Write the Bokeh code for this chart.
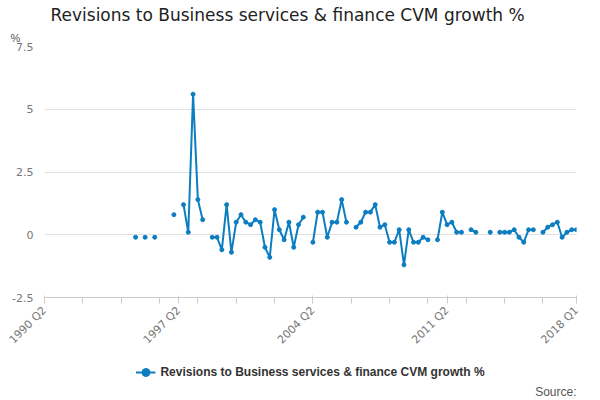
from bokeh.plotting import figure
from bokeh.layouts import column
from bokeh.models import Range1d, FixedTicker, Legend, LegendItem, Title, ColumnDataSource
from bokeh.embed import file_html
from bokeh.resources import INLINE
import numpy as np

# Quarter labels 1990 Q2 .. 2018 Q1 (112 quarters)
quarters = []
for yr in range(1990, 2019):
    for q in range(1, 5):
        quarters.append(f'{yr} Q{q}')
quarters = quarters[1:quarters.index('2018 Q1') + 1]

# Revisions, indexed by quarter position (missing = no data)
revisions = {
    19: -0.1, 21: -0.1, 23: -0.1, 27: 0.8,
    29: 1.2, 30: 0.1, 31: 5.6, 32: 1.4, 33: 0.6,
    35: -0.1, 36: -0.1, 37: -0.6, 38: 1.2, 39: -0.7, 40: 0.5, 41: 0.8, 42: 0.5,
    43: 0.4, 44: 0.6, 45: 0.5, 46: -0.5, 47: -0.9, 48: 1.0, 49: 0.2, 50: -0.2,
    51: 0.5, 52: -0.5, 53: 0.4, 54: 0.7,
    56: -0.3, 57: 0.9, 58: 0.9, 59: -0.1, 60: 0.5, 61: 0.5, 62: 1.4, 63: 0.5,
    65: 0.3, 66: 0.5, 67: 0.9, 68: 0.9, 69: 1.2, 70: 0.3, 71: 0.4, 72: -0.3,
    73: -0.3, 74: 0.2, 75: -1.2, 76: 0.2, 77: -0.3, 78: -0.3, 79: -0.1, 80: -0.2,
    82: -0.2, 83: 0.9, 84: 0.4, 85: 0.5, 86: 0.1, 87: 0.1,
    89: 0.2, 90: 0.1, 93: 0.1,
    95: 0.1, 96: 0.1, 97: 0.1, 98: 0.2, 99: -0.1, 100: -0.3, 101: 0.2, 102: 0.2,
    104: 0.1, 105: 0.3, 106: 0.4, 107: 0.5, 108: -0.1, 109: 0.1, 110: 0.2, 111: 0.2,
}
SERIES_NAME = 'Revisions to Business services & finance CVM growth %'

xs = list(range(len(quarters)))
ys = [revisions.get(i, np.nan) for i in xs]
COLOR = '#0b7dc1'

p = figure(frame_width=532, frame_height=251, title=None,
           output_backend="svg", toolbar_location=None,
           x_range=Range1d(0, 111), y_range=Range1d(-2.5, 7.5),
           min_border_left=44, min_border_right=8, min_border_top=0, min_border_bottom=0)

src = ColumnDataSource(dict(x=xs, y=ys))
p.line('x', 'y', source=src, line_color=COLOR, line_width=2)
p.scatter('x', 'y', source=src, size=4, color=COLOR)

p.outline_line_color = None
p.xgrid.grid_line_color = None
p.ygrid.grid_line_color = '#e0e0e0'
p.yaxis.ticker = FixedTicker(ticks=[-2.5, 0, 2.5, 5, 7.5])
p.yaxis.major_label_overrides = {-2.5: '-2.5', 0: '0', 2.5: '2.5', 5: '5', 7.5: '7.5'}
p.yaxis.axis_line_color = None
p.yaxis.major_tick_line_color = None
p.yaxis.minor_tick_line_color = None
p.xaxis.ticker = FixedTicker(ticks=[0, 28, 56, 84, 111],
                             minor_ticks=list(range(0, 112, 8)))
p.xaxis.major_label_overrides = {i: quarters[i] for i in [0, 28, 56, 84, 111]}
p.xaxis.major_label_orientation = 0.785
p.xaxis.axis_line_color = '#cccccc'
p.xaxis.major_tick_line_color = '#cccccc'
p.xaxis.minor_tick_line_color = '#cccccc'
p.xaxis.minor_tick_in = 0
p.xaxis.minor_tick_out = 6
for ax in (p.xaxis, p.yaxis):
    ax.major_label_text_color = '#777777'
    ax.major_label_text_font = 'DejaVu Sans'
    ax.major_label_text_font_size = '11px'

# Titles above the frame: '%' unit label, then the main title on top
p.add_layout(Title(text='%', align='left', offset=-34, text_font_size='11px',
                   text_font_style='normal', text_color='#555555', standoff=6), 'above')
p.add_layout(Title(text=SERIES_NAME, align='left', offset=6, text_font='DejaVu Sans',
                   text_font_size='17px', text_font_style='normal', text_color='#222222',
                   standoff=4), 'above')

# Separate strip for the legend and the source note
leg = figure(width=584, height=44, output_backend="svg", toolbar_location=None,
             x_range=Range1d(0, 1), y_range=Range1d(0, 1), min_border=0)
leg.axis.visible = False
leg.grid.visible = False
leg.outline_line_color = None
l_ln = leg.line([5, 6], [5, 6], line_color=COLOR, line_width=2)
l_pt = leg.scatter([5], [5], size=4, color=COLOR)
legend = Legend(items=[LegendItem(label=SERIES_NAME, renderers=[l_ln, l_pt])],
                location='top_center', orientation='horizontal', border_line_color=None,
                label_text_font_style='bold', label_text_font_size='12px',
                label_text_color='#333333', glyph_width=20, margin=8, padding=2)
leg.add_layout(legend)
leg.add_layout(Title(text='Source:', align='right', text_font_size='12px',
                     text_font_style='normal', text_color='#555555', standoff=0), 'below')

layout = column(p, leg, spacing=0)
open("out.html", "w").write(file_html(layout, INLINE))
